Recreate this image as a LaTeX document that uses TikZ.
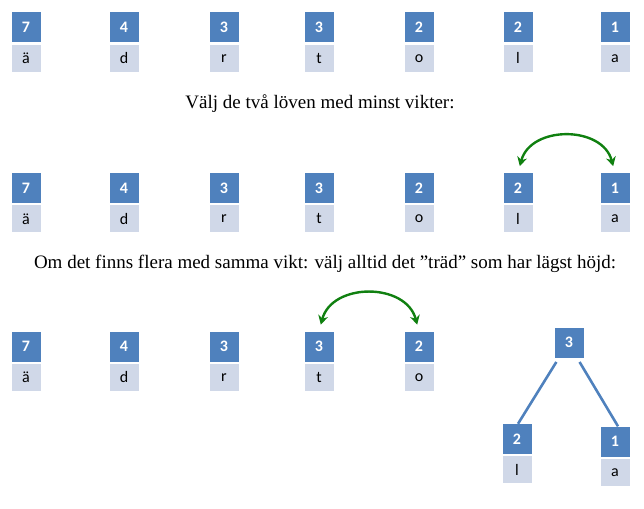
\documentclass[tikz,border=0pt]{standalone}
\usepackage{fontspec}
\setmainfont{Liberation Serif}
\newfontfamily\boxfont{Carlito}
\usetikzlibrary{positioning,arrows.meta}
\definecolor{wblue}{HTML}{4F81BD}
\definecolor{lblue}{HTML}{D0D8E8}
\definecolor{agreen}{RGB}{16,128,16}
\tikzset{
  weight/.style={fill=wblue, text=white, font=\boxfont\fontsize{16}{16}\bfseries\selectfont,
    minimum width=29, minimum height=30, inner sep=0},
  letter/.style={fill=lblue, text=black, font=\boxfont\fontsize{16}{16}\selectfont,
    minimum width=29, minimum height=27, inner sep=0},
  swap/.style={agreen, line width=2.4pt, shorten <=7pt, shorten >=7pt,
    {Stealth[length=9pt,width=10pt]}-{Stealth[length=9pt,width=10pt]}},
  edge/.style={wblue, line width=2.6pt},
  caption/.style={font=\fontsize{19}{19}\selectfont}
}
\begin{document}
\begin{tikzpicture}[x=1pt,y=-1pt]
    \useasboundingbox (0,0) rectangle (644,508);
    % row 1 and row 2
    \foreach \r/\y in {a/27.5, b/188} {
      \foreach \x/\w/\l [count=\i] in {26/7/ä, 124/4/d, 224/3/r, 319/3/t, 419/2/o, 518/2/l, 615/1/a} {
        \node[weight] (\r w\i) at (\x,\y) {\w};
        \node[letter, below=2pt of \r w\i] (\r l\i) {\l};
      }
    }
    % row 3
    \foreach \x/\w/\l [count=\i] in {26/7/ä, 124/4/d, 224/3/r, 319/3/t, 419/2/o} {
      \node[weight] (cw\i) at (\x,346.5) {\w};
      \node[letter, below=2pt of cw\i] (cl\i) {\l};
    }
    \node[weight] (root) at (569,342.5) {3};
    \node[weight] (tw1) at (517,439) {2};
    \node[letter, below=2pt of tw1] (tl1) {l};
    \node[weight] (tw2) at (615,441.5) {1};
    \node[letter, below=2pt of tw2] (tl2) {a};
    \draw[edge, shorten <=5pt] ([xshift=-10pt]root.south) -- ([xshift=1pt]tw1.north);
    \draw[edge, shorten <=5pt] ([xshift=8pt]root.south) -- ([xshift=3pt]tw2.north);
    \node[caption] (cap1) at (320,104) {Välj de två löven med minst vikter:};
    \node[caption] (cap2) at (325,264) {Om det finns flera med samma vikt: välj alltid det ”träd” som har lägst höjd:};
    \draw[swap] (bw6.north) to[out=75, in=105, looseness=1.3] (bw7.north);
    \draw[swap] (cw4.north) to[out=75, in=105, looseness=1.3] (cw5.north);
\end{tikzpicture}
\end{document}
